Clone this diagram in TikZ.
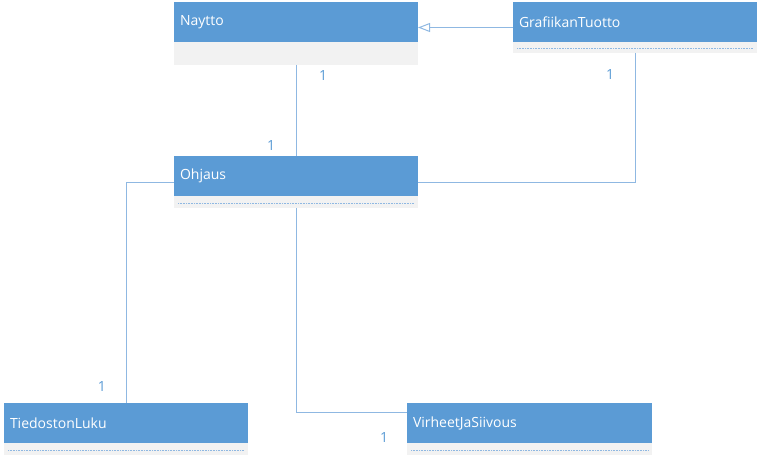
\documentclass[tikz,border=0pt]{standalone}
\usepackage{fontspec}
\setmainfont{Open Sans}
\usetikzlibrary{arrows.meta,calc}
\definecolor{hdr}{HTML}{5B9BD5}
\definecolor{band}{HTML}{F2F2F2}
\definecolor{conn}{HTML}{8FB8E2}
\definecolor{dotc}{HTML}{8FB8E2}
\begin{document}
\begin{tikzpicture}[x=1pt,y=-1pt,
  classbox/.style={rectangle,fill=band,draw=none,inner sep=0pt,outer sep=0pt,anchor=north west,minimum width=244pt},
  header/.style={rectangle,fill=hdr,draw=none,inner xsep=6pt,inner ysep=0pt,outer sep=0pt,anchor=north west,text width=232pt,align=left,minimum height=40pt,text=white,font=\fontsize{14}{16}\selectfont},
  conn/.style={draw=conn,line width=1pt},
  mult/.style={text=hdr,font=\fontsize{14}{16}\selectfont,inner sep=0pt},
  dotline/.style={draw=dotc,line width=0.8pt,dash pattern=on 0.6pt off 1pt}
]
\useasboundingbox (0,0) rectangle (759,457);
% classes
\node[classbox,minimum height=63pt] (naytto) at (174,2) {};
\node[header] (nayttoH) at (naytto.north west) {Naytto};

\node[classbox,minimum height=51pt] (graf) at (513,2) {};
\node[header] (grafH) at (graf.north west) {GrafiikanTuotto};
\draw[dotline] ([xshift=4pt,yshift=-46pt]graf.north west) -- ([xshift=-4pt,yshift=-46pt]graf.north east);

\node[classbox,minimum height=52pt] (ohjaus) at (174,156) {};
\node[header] (ohjausH) at (ohjaus.north west) {Ohjaus};
\draw[dotline] ([xshift=4pt,yshift=-47pt]ohjaus.north west) -- ([xshift=-4pt,yshift=-47pt]ohjaus.north east);

\node[classbox,minimum height=52pt] (tied) at (4,403) {};
\node[header] (tiedH) at (tied.north west) {TiedostonLuku};
\draw[dotline] ([xshift=4pt,yshift=-47pt]tied.north west) -- ([xshift=-4pt,yshift=-47pt]tied.north east);

\node[classbox,minimum height=52pt,minimum width=245pt] (virh) at (407,403) {};
\node[header,text width=233pt] (virhH) at (virh.north west) {VirheetJaSiivous};
\draw[dotline] ([xshift=4pt,yshift=-47pt]virh.north west) -- ([xshift=-4pt,yshift=-47pt]virh.north east);

% connectors
\draw[conn,-{Triangle[open,length=12pt,width=9pt]}] (graf.west) -- (graf.west -| naytto.east);
\draw[conn] (naytto.south) -- (ohjaus.north);
\draw[conn] (graf.south) |- (ohjaus.east);
\draw[conn] (ohjaus.west) -| (tied.north);
\coordinate (vin) at ([yshift=17pt]virh.west);
\draw[conn] (ohjaus.south) |- (vin);

% multiplicities
\node[mult] (m1) at (323,76) {1};
\node[mult] (m2) at (271,146) {1};
\node[mult] (m3) at (610,75) {1};
\node[mult] (m4) at (102,386) {1};
\node[mult] (m5) at (384,437) {1};
\end{tikzpicture}
\end{document}
